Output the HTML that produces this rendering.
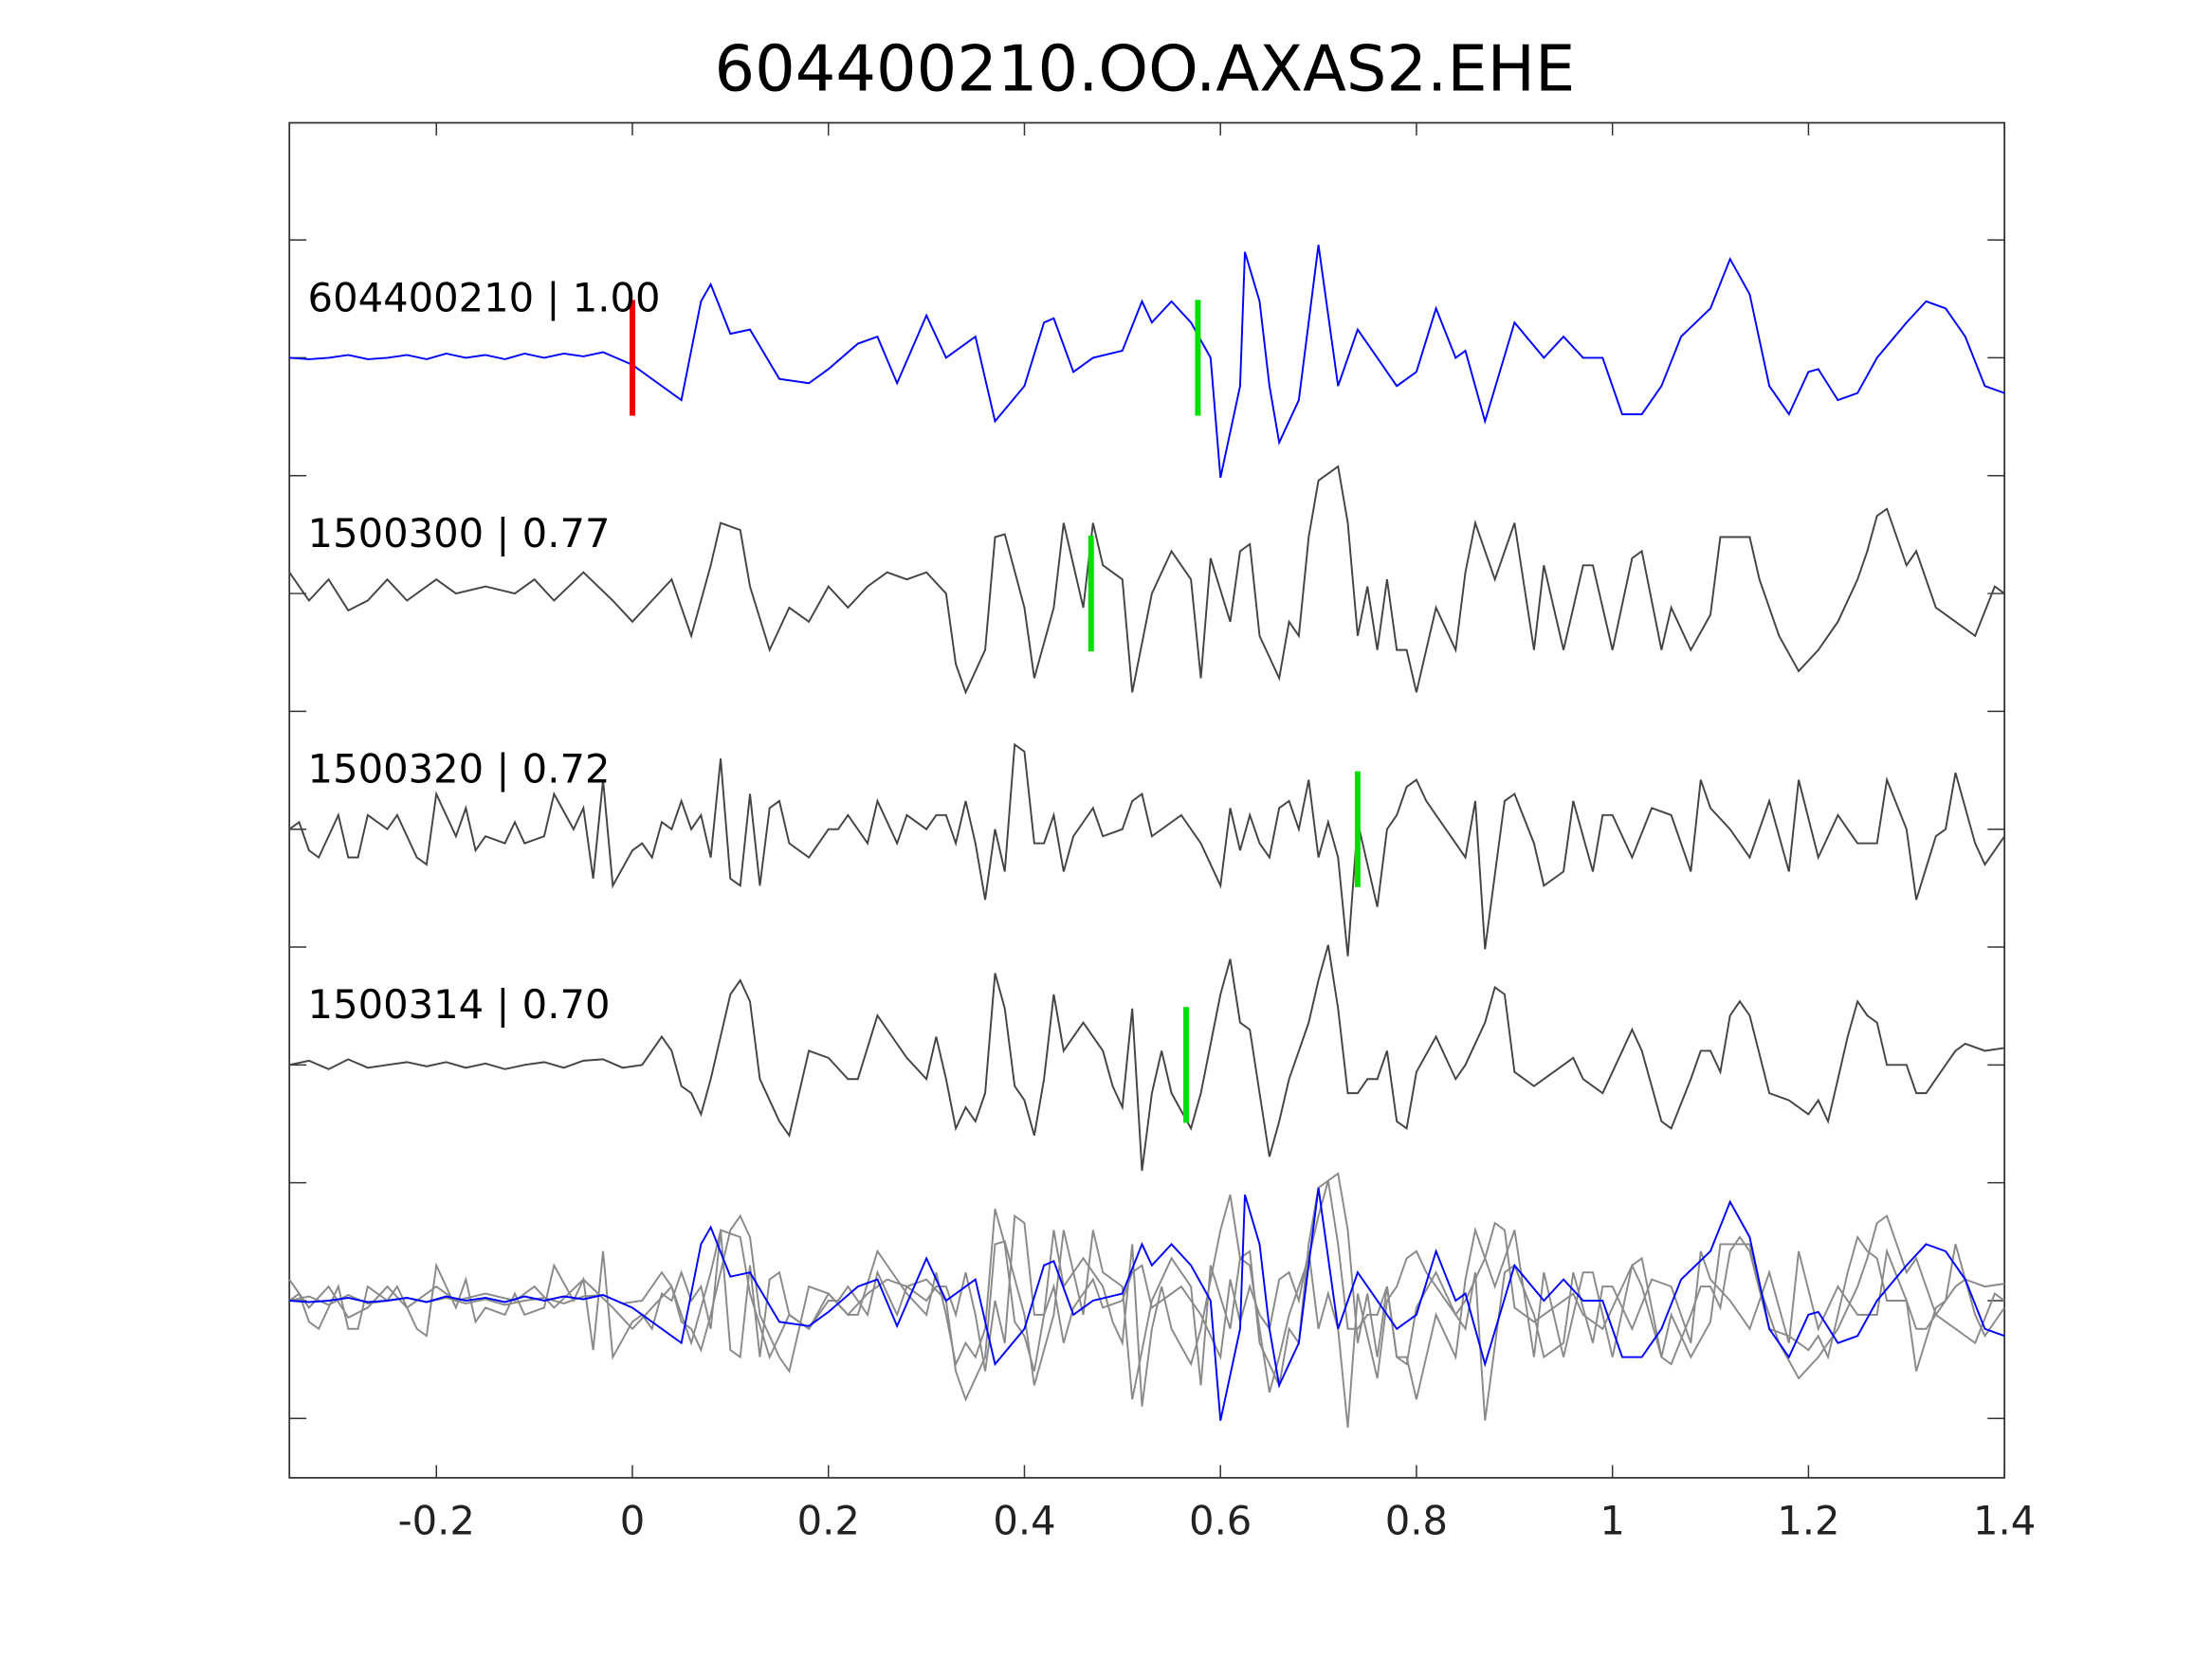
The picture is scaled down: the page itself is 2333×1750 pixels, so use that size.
<!DOCTYPE html>
<html><head><meta charset="utf-8"><style>
html,body{margin:0;padding:0;background:#fff;}
svg{display:block;}
text{font-family:"DejaVu Sans","Liberation Sans",sans-serif;}
</style></head><body>
<svg id="chart" width="2333" height="1750" viewBox="0 0 1567 1175.4" preserveAspectRatio="none" xmlns="http://www.w3.org/2000/svg">
<rect x="0" y="0" width="1567" height="1175.4" fill="#fff"/>
<text x="811" y="64" font-size="45" text-anchor="middle" fill="#000">604400210.OO.AXAS2.EHE</text>
<g id="axes"></g>
<g id="traces"></g>
<g id="labels"></g>
</svg>
<script>
const xTicks=[-0.2,0,0.2,0.4,0.6,0.8,1,1.2,1.4];
const xTickLabels=["-0.2","0","0.2","0.4","0.6","0.8","1","1.2","1.4"];
const traceNames=["604400210 | 1.00","1500300 | 0.77","1500320 | 0.72","1500314 | 0.70"];
const pickTimes=[0.577,0.468,0.74,0.565];
const refPick=0;
const t1=[-0.35,-0.33,-0.31,-0.29,-0.27,-0.25,-0.23,-0.21,-0.19,-0.17,-0.15,-0.13,-0.11,-0.09,-0.07,-0.05,-0.03,-0.01,0,0.02,0.05,0.07,0.08,0.1,0.12,0.15,0.18,0.2,0.23,0.25,0.27,0.3,0.32,0.35,0.37,0.4,0.42,0.43,0.45,0.47,0.5,0.52,0.53,0.55,0.57,0.59,0.6,0.62,0.625,0.64,0.65,0.66,0.68,0.7,0.72,0.74,0.76,0.78,0.8,0.82,0.84,0.85,0.87,0.9,0.93,0.95,0.97,0.99,1.01,1.03,1.05,1.07,1.1,1.12,1.14,1.16,1.18,1.2,1.21,1.23,1.25,1.27,1.3,1.32,1.34,1.36,1.38,1.4];
const v1=[0,1,0,-2,1,0,-2,1,-3,0,-2,1,-3,0,-3,-1,-4,2,5,15,30,-40,-52,-17,-20,15,18,8,-10,-15,18,-30,0,-15,45,20,-25,-28,10,0,-5,-40,-25,-40,-25,0,85,20,-75,-40,20,60,30,-80,20,-20,0,20,10,-35,0,-5,45,-25,0,-15,0,0,40,40,20,-15,-35,-70,-45,20,40,10,8,30,25,0,-25,-40,-35,-15,20,25];
const t2=[-0.35,-0.33,-0.31,-0.29,-0.27,-0.25,-0.23,-0.2,-0.18,-0.15,-0.12,-0.1,-0.08,-0.05,-0.02,0,0.02,0.04,0.06,0.08,0.09,0.11,0.12,0.14,0.16,0.18,0.2,0.22,0.24,0.26,0.28,0.3,0.32,0.33,0.34,0.36,0.37,0.38,0.4,0.41,0.43,0.44,0.46,0.47,0.48,0.5,0.51,0.53,0.55,0.57,0.58,0.59,0.61,0.62,0.63,0.64,0.66,0.67,0.68,0.69,0.7,0.72,0.73,0.74,0.75,0.76,0.77,0.78,0.79,0.8,0.82,0.84,0.85,0.86,0.88,0.9,0.92,0.93,0.95,0.97,0.98,1.0,1.02,1.03,1.05,1.06,1.08,1.1,1.11,1.13,1.14,1.15,1.17,1.19,1.21,1.23,1.25,1.26,1.27,1.28,1.3,1.31,1.33,1.35,1.37,1.39,1.4];
const v2=[-15,5,-10,12,5,-10,5,-10,0,-5,0,-10,5,-15,5,20,5,-10,30,-20,-50,-45,-5,40,10,20,-5,10,-5,-15,-10,-15,0,50,70,40,-40,-42,10,60,10,-50,10,-50,-20,-10,70,0,-30,-10,60,-25,20,-30,-35,30,60,20,30,-40,-80,-90,-50,30,-5,40,-10,40,40,70,10,40,-15,-50,-10,-50,40,-20,40,-20,-20,40,-25,-30,40,10,40,15,-40,-40,-40,-10,30,55,40,20,-10,-30,-55,-60,-20,-30,10,20,30,-5,0];
const t3=[-0.35,-0.34,-0.33,-0.32,-0.3,-0.29,-0.28,-0.27,-0.25,-0.24,-0.22,-0.21,-0.2,-0.18,-0.17,-0.16,-0.15,-0.13,-0.12,-0.11,-0.09,-0.08,-0.06,-0.05,-0.04,-0.03,-0.02,0,0.01,0.02,0.03,0.04,0.05,0.06,0.07,0.08,0.09,0.1,0.11,0.12,0.13,0.14,0.15,0.16,0.18,0.2,0.21,0.22,0.24,0.25,0.27,0.28,0.3,0.31,0.32,0.33,0.34,0.35,0.36,0.37,0.38,0.39,0.4,0.41,0.42,0.43,0.44,0.45,0.47,0.48,0.5,0.51,0.52,0.53,0.55,0.56,0.58,0.6,0.61,0.62,0.63,0.64,0.65,0.66,0.67,0.68,0.69,0.7,0.71,0.72,0.73,0.74,0.76,0.77,0.78,0.79,0.8,0.81,0.82,0.84,0.85,0.86,0.87,0.89,0.9,0.92,0.93,0.95,0.96,0.98,0.99,1.0,1.02,1.04,1.06,1.08,1.09,1.1,1.12,1.14,1.16,1.18,1.19,1.21,1.23,1.24,1.25,1.27,1.28,1.3,1.31,1.33,1.34,1.35,1.37,1.38,1.4];
const v3=[0,-5,15,20,-10,20,20,-10,0,-10,20,25,-25,5,-15,15,5,10,-5,10,5,-25,0,-15,35,-35,40,15,10,20,-5,0,-20,0,-10,20,-50,35,40,-25,40,-15,-20,10,20,0,0,-10,10,-20,10,-10,0,-10,-10,10,-20,10,50,0,30,-60,-55,10,10,-10,30,5,-15,5,0,-20,-25,5,-5,-10,10,40,-15,15,-10,10,20,-15,-20,0,-35,20,-5,20,90,-5,55,0,-10,-30,-35,-20,-10,10,20,-20,85,-20,-25,10,40,30,-20,30,-10,-10,20,-15,-10,30,-35,-15,0,20,-20,30,-35,20,-10,0,10,10,-35,0,50,5,0,-40,10,25,5];
const t4=[-0.35,-0.33,-0.31,-0.29,-0.27,-0.25,-0.23,-0.21,-0.19,-0.17,-0.15,-0.13,-0.11,-0.09,-0.07,-0.05,-0.03,-0.01,0.01,0.03,0.04,0.05,0.06,0.07,0.08,0.1,0.11,0.12,0.13,0.14,0.15,0.16,0.18,0.2,0.22,0.23,0.25,0.26,0.28,0.3,0.31,0.32,0.33,0.34,0.35,0.36,0.37,0.38,0.39,0.4,0.41,0.42,0.43,0.44,0.45,0.46,0.47,0.48,0.49,0.5,0.51,0.52,0.53,0.54,0.55,0.57,0.58,0.6,0.61,0.62,0.63,0.64,0.65,0.66,0.67,0.69,0.7,0.71,0.72,0.73,0.74,0.75,0.76,0.77,0.78,0.79,0.8,0.82,0.84,0.85,0.87,0.88,0.89,0.9,0.92,0.94,0.96,0.97,0.99,1.0,1.02,1.03,1.05,1.06,1.08,1.09,1.1,1.11,1.12,1.13,1.14,1.16,1.18,1.2,1.21,1.22,1.23,1.24,1.25,1.26,1.27,1.28,1.3,1.31,1.32,1.34,1.35,1.36,1.38,1.4];
const v4=[0,-3,3,-4,2,0,-2,1,-2,2,-1,3,0,-2,2,-3,-4,2,0,-20,-10,15,20,35,10,-50,-60,-45,10,25,40,50,-10,-5,10,10,-35,-25,-5,10,-20,10,45,30,40,20,-65,-40,15,25,50,10,-50,-10,-20,-30,-20,-10,15,30,-40,75,20,-10,20,45,20,-50,-75,-30,-25,20,65,40,10,-30,-60,-85,-40,20,20,10,10,-10,40,45,5,-20,10,0,-30,-55,-50,5,15,5,-5,10,20,5,-25,-10,40,45,10,-10,-10,5,-35,-45,-35,20,25,35,25,40,10,-20,-45,-35,-30,0,0,20,20,0,-10,-15,-10,-12];
const times=[t1,t2,t3,t4];
const values=[v1,v2,v3,v4];

const NS="http://www.w3.org/2000/svg";
const L=205,R=1420,T=87,B=1047,X0=-0.35,X1=1.4;
const centers=[253.5,420.5,587.5,754.5];
const overlayCenter=921.5;
function xs(t){return L+(t-X0)/(X1-X0)*(R-L);}
function ys(v,c){return c+v;}
function mk(tag,attrs,parent){const e=document.createElementNS(NS,tag);for(const k in attrs)e.setAttribute(k,attrs[k]);parent.appendChild(e);return e;}
const axes=document.getElementById('axes');
const tr=document.getElementById('traces');
const lab=document.getElementById('labels');

const frame=mk('rect',{x:L,y:T,width:R-L,height:B-T,fill:'none',stroke:'#333','stroke-width':1.2},axes);


xTicks.forEach((t,i)=>{
  const x=xs(t);
  const a=mk('line',{x1:x,y1:B,x2:x,y2:B-9,stroke:'#333','stroke-width':1},axes);
  
  
  const b=mk('line',{x1:x,y1:T,x2:x,y2:T+9,stroke:'#333','stroke-width':1},axes);
  
  
  const tx=mk('text',{x:x,y:1087,'font-size':28,'text-anchor':'middle',fill:'#222'},axes);
  tx.textContent=xTickLabels[i];
  
  
});
for(let k=0;k<11;k++){
  const y=170+k*83.5;
  const a=mk('line',{x1:L,y1:y,x2:L+12,y2:y,stroke:'#333','stroke-width':1},axes);
  
  
  const b=mk('line',{x1:R,y1:y,x2:R-12,y2:y,stroke:'#333','stroke-width':1},axes);
  
  
}
function pts(ti,vi,c){return ti.map((t,j)=>xs(t).toFixed(1)+','+ys(vi[j],c).toFixed(1)).join(' ');}
[1,2,3].forEach(i=>{
  const p=mk('polyline',{points:pts(times[i],values[i],overlayCenter),fill:'none',stroke:'#8a8a8a','stroke-width':1.3},tr);
  
  
});
const ob=mk('polyline',{points:pts(times[0],values[0],overlayCenter),fill:'none',stroke:'#0000ff','stroke-width':1.3},tr);


for(let i=0;i<4;i++){
  const p=mk('polyline',{points:pts(times[i],values[i],centers[i]),fill:'none',stroke:i===0?'#0000ff':'#444','stroke-width':1.3},tr);
  
  
  const g=mk('line',{x1:xs(pickTimes[i]),x2:xs(pickTimes[i]),y1:centers[i]-41,y2:centers[i]+41,stroke:'#00e000','stroke-width':4},tr);
  
  
  const tx=mk('text',{x:218,y:centers[i]-33,'font-size':28,fill:'#000'},lab);
  tx.textContent=traceNames[i];
  
  
}
const rm=mk('line',{x1:xs(refPick),x2:xs(refPick),y1:centers[0]-41,y2:centers[0]+41,stroke:'#ee0000','stroke-width':4},tr);


</script>
</body></html>
